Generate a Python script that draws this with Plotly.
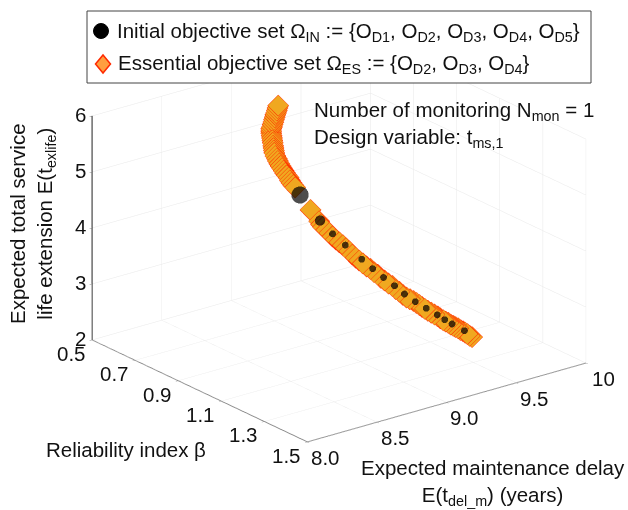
import plotly.graph_objects as go

# Essential objective set
es_delay = [9.18,9.175,9.17,9.165,9.16,9.155,9.15,9.145,9.14,9.135,9.13,9.13,
            9.13,9.125,9.12,9.115,9.11,9.105,9.10,9.095,9.09,9.087,9.085,9.082,
            9.08,9.08,9.08,9.08,9.08,9.082,9.085,9.085,9.085,9.087,9.09,
            9.095,
            9.10,9.10,
            9.10,9.107,9.115,9.122,9.13,9.14,9.15,9.157,9.165,9.172,9.18,9.19,
            9.20,9.215,9.23,9.242,9.255,9.267,9.28,9.295,9.31,9.322,9.335,9.347,
            9.36,9.375,9.39,9.40,9.41,9.42,9.43,9.442,9.455,9.467,9.48,9.49,
            9.50,9.51,9.52,9.53,9.54,9.55,9.56,9.57,9.58,9.587,9.595,9.604,9.614]
es_beta = [.60,.60,.60,.60,.60,.60,.60,.60,.60,.60,.60,.60,
           .60,.605,.61,.615,.62,.625,.63,.635,.64,.647,.655,.662,
           .67,.676,.683,.69,.697,.703,.71,.716,.723,.73,.737,
           .805,
           .842,.851,
           .86,.87,.88,.89,.90,.91,.92,.93,.94,.95,.96,.97,
           .98,.988,.997,1.005,1.013,1.021,1.03,1.038,1.047,1.055,1.063,1.071,
           1.08,1.086,1.093,1.10,1.107,1.113,1.12,1.126,1.133,1.14,1.147,1.153,
           1.16,1.165,1.17,1.175,1.18,1.185,1.19,1.195,1.20,1.205,1.21,1.215,1.22]
es_life = [5.54,5.50,5.46,5.42,5.39,5.35,5.31,5.27,5.23,5.19,5.16,5.12,
           5.08,5.05,5.02,4.99,4.96,4.92,4.89,4.86,4.83,4.79,4.76,4.73,
           4.70,4.67,4.64,4.61,4.58,4.55,4.52,4.48,4.45,4.42,4.39,
           4.11,
           3.97,3.93,
           3.90,3.86,3.82,3.77,3.73,3.69,3.65,3.61,3.57,3.52,3.48,3.44,
           3.40,3.35,3.31,3.26,3.22,3.17,3.13,3.08,3.04,2.99,2.95,2.90,
           2.86,2.83,2.80,2.77,2.74,2.71,2.68,2.65,2.62,2.59,2.56,2.53,
           2.50,2.48,2.46,2.43,2.41,2.39,2.37,2.34,2.32,2.30,2.28,2.25,2.23]
# Initial objective set
in_delay = [9.16,9.14,9.13,9.11,9.09,9.08,9.08,9.085,9.09,9.08,9.10,9.13,9.17,9.21,9.25,9.29,9.33,9.37,9.41,9.45,9.48,9.51,9.55,9.56]
in_beta = [.60,.60,.61,.625,.65,.68,.70,.72,.76,.86,.905,.945,.995,1.02,1.045,1.07,1.09,1.115,1.14,1.165,1.18,1.195,1.19,1.22]
in_life = [5.42,5.23,5.12,4.96,4.79,4.64,4.55,4.45,4.30,4.03,3.86,3.71,3.52,3.37,3.23,3.10,2.96,2.84,2.74,2.64,2.56,2.49,2.40,2.38]
in_size = [14,14,12,10,10,10,10,10,20,12,8,8,8,8,8,8,8,8,8,8,8,8,14,8]

delay_ticks = [8, 8.5, 9, 9.5, 10]
delay_labels = ["8.0", "8.5", "9.0", "9.5", "10"]
beta_ticks = [0.5, 0.7, 0.9, 1.1, 1.3, 1.5]
beta_labels = ["0.5", "0.7", "0.9", "1.1", "1.3", "1.5"]
life_ticks = [2, 3, 4, 5, 6]
life_labels = ["2", "3", "4", "5", "6"]

NAME_IN = "Initial objective set Ω<sub>IN</sub> := {O<sub>D1</sub>, O<sub>D2</sub>, O<sub>D3</sub>, O<sub>D4</sub>, O<sub>D5</sub>}"
NAME_ES = "Essential objective set Ω<sub>ES</sub> := {O<sub>D2</sub>, O<sub>D3</sub>, O<sub>D4</sub>}"
FONT = "Liberation Sans"
FS = 20.5
TXT = "#111111"

fig = go.Figure()
fig.add_trace(go.Scatter3d(x=in_delay, y=in_beta, z=in_life, mode="markers", name="Initial objective set",
                           marker=dict(symbol="circle", size=in_size, color="#000000", line=dict(width=0))))
fig.add_trace(go.Scatter3d(x=es_delay, y=es_beta, z=es_life, mode="markers", name="Essential objective set",
                           marker=dict(symbol="diamond", size=7, color="#f0a820",
                                       line=dict(color="#ff3300", width=2))))

def axis(rng, ticks, line):
    return dict(range=rng, tickvals=ticks, showticklabels=False, title=dict(text=""), showbackground=False,
                gridcolor="#e8e8e8", gridwidth=1, zeroline=False, showline=True, linecolor=line, linewidth=2,
                ticks="outside", ticklen=3, tickcolor="#888888", showspikes=False)

def W(px):
    return px / 628
def H(py):
    return 1 - py / 510

tick_notes = []
for v, t in zip(delay_ticks, delay_labels):
    tick_notes.append(dict(x=v, y=1.5, z=2, text=t, showarrow=False, xshift=18, yshift=-15,
                           font=dict(family=FONT, size=FS, color=TXT)))
for v, t in zip(beta_ticks, beta_labels):
    tick_notes.append(dict(x=8, y=v, z=2, text=t, showarrow=False, xshift=-21, yshift=-13,
                           font=dict(family=FONT, size=FS, color=TXT)))
for v, t in zip(life_ticks, life_labels):
    tick_notes.append(dict(x=8, y=0.5, z=v, text=t, showarrow=False, xshift=-12, yshift=2,
                           font=dict(family=FONT, size=FS, color=TXT)))

fig.update_layout(
    width=628, height=510, margin=dict(l=0, r=0, t=0, b=0), paper_bgcolor="white",
    font=dict(family=FONT, size=FS, color=TXT),
    showlegend=False,
    scene=dict(
        domain=dict(x=[0.08, 1], y=[0.06, 1]),
        xaxis=axis([8, 10], delay_ticks, "#888888"),
        yaxis=axis([1.5, 0.5], beta_ticks, "#888888"),
        zaxis=axis([2, 6], life_ticks, "#000000"),
        aspectmode="manual", aspectratio=dict(x=1.47, y=1.47, z=1.005),
        camera=dict(projection=dict(type="orthographic"), eye=dict(x=-1.138, y=-1.472, z=0.732),
                    up=dict(x=0, y=0, z=1), center=dict(x=0, y=0, z=0)),
        annotations=tick_notes,
    ),
    shapes=[
        dict(type="rect", xref="paper", yref="paper", x0=W(87), x1=W(591), y0=H(83), y1=H(11),
             line=dict(color="#444444", width=1), fillcolor="white"),
        dict(type="circle", xref="paper", yref="paper", x0=W(93.5), x1=W(108.5), y0=H(38.5), y1=H(23.5),
             line=dict(color="#000000", width=1), fillcolor="#000000"),
        dict(type="path", xref="paper", yref="paper",
             path=f"M {W(95.5)} {H(64)} L {W(103)} {H(55)} L {W(110.5)} {H(64)} L {W(103)} {H(73)} Z",
             line=dict(color="#ff2a00", width=1.5), fillcolor="#ff9f40"),
    ],
    annotations=[
        dict(text=NAME_IN, xref="paper", yref="paper", x=W(115), y=H(32), xanchor="left", yanchor="middle", showarrow=False),
        dict(text=NAME_ES, xref="paper", yref="paper", x=W(116), y=H(64), xanchor="left", yanchor="middle", showarrow=False),
        dict(text="Number of monitoring N<sub>mon</sub> = 1<br>Design variable: t<sub>ms,1</sub>", xref="paper", yref="paper",
             x=W(312), y=H(124), xanchor="left", yanchor="middle", align="left", showarrow=False),
        dict(text="Expected total service<br>life extension E(t<sub>exlife</sub>)", xref="paper", yref="paper",
             x=W(32), y=H(224), xanchor="center", yanchor="middle", textangle=-90, showarrow=False),
        dict(text="Reliability index β", xref="paper", yref="paper", x=W(126), y=H(449), xanchor="center", yanchor="middle", showarrow=False),
        dict(text="Expected maintenance delay<br>E(t<sub>del_m</sub>) (years)", xref="paper", yref="paper",
             x=W(493), y=H(482), xanchor="center", yanchor="middle", showarrow=False),
    ],
)
fig.write_html("out.html", post_script="document.body.style.margin='0';", config={"displayModeBar": False})
